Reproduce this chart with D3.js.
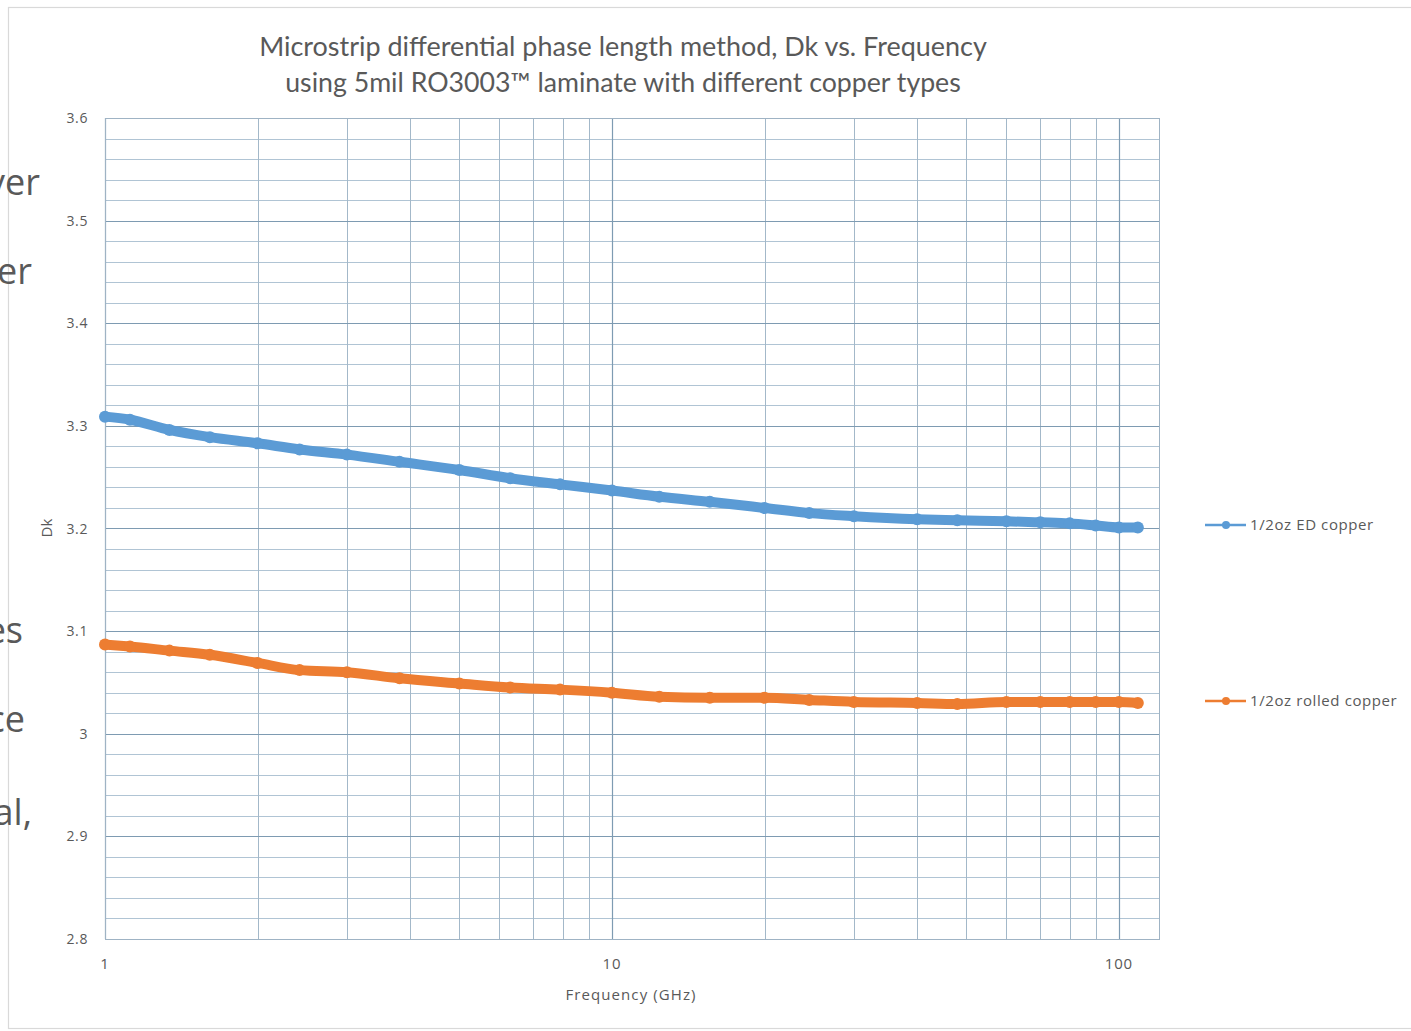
<!DOCTYPE html>
<html>
<head>
<meta charset="utf-8">
<script src="https://cdn.jsdelivr.net/npm/d3@7"></script>
<style>
  html, body { margin: 0; padding: 0; background: #ffffff; }
  svg { display: block; }
</style>
</head>
<body>
<svg id="chart" width="1411" height="1031"></svg>
<script>
// Measured Dk vs. frequency for two copper foil types on 5 mil RO3003
const freqGHz = [1, 1.12, 1.34, 1.61, 2, 2.42, 3, 3.81, 5, 6.3, 7.9, 10, 12.4, 15.6, 20, 24.5, 30, 40, 48, 60, 70, 80, 90, 100, 109];
const edCopper = [3.309, 3.306, 3.296, 3.289, 3.283, 3.277, 3.272, 3.265, 3.257, 3.249, 3.243, 3.237, 3.231, 3.226, 3.220, 3.215, 3.212, 3.209, 3.208, 3.207, 3.206, 3.205, 3.203, 3.201, 3.201];
const rolledCopper = [3.087, 3.085, 3.081, 3.077, 3.069, 3.062, 3.060, 3.054, 3.049, 3.045, 3.043, 3.040, 3.036, 3.035, 3.035, 3.033, 3.031, 3.030, 3.029, 3.031, 3.031, 3.031, 3.031, 3.031, 3.030];

const seriesNames = ["1/2oz ED copper", "1/2oz rolled copper"];
const seriesColors = ["#5b9bd5", "#ed7d31"];

const yTicks = [2.8, 2.9, 3.0, 3.1, 3.2, 3.3, 3.4, 3.5, 3.6];
const xTickLabels = [1, 10, 100];

const titleLines = [
  "Microstrip differential phase length method, Dk vs. Frequency",
  "using 5mil RO3003\u2122 laminate with different copper types"
];

// Fragments of surrounding page text clipped at the left edge
const sideText = [
  { t: "ver", x: 40, y: 195 },
  { t: "er",  x: 32, y: 284 },
  { t: "es",  x: 23, y: 643 },
  { t: "ce",  x: 25, y: 732 },
  { t: "al,", x: 32, y: 825 }
];

const svg = d3.select("#chart");
const textColor = "#595959";
const labelFont = "'Open Sans', sans-serif";

// chart frame
svg.append("rect")
  .attr("x", 8.5).attr("y", 7.5)
  .attr("width", 1420).attr("height", 1021)
  .attr("fill", "#ffffff")
  .attr("stroke", "#d9d9d9").attr("stroke-width", 1.2);

const plot = { left: 105, right: 1159, top: 118, bottom: 939 };

const x = d3.scaleLog().domain([1, 120]).range([plot.left, plot.right]);
const y = d3.scaleLinear().domain([2.8, 3.6]).range([plot.bottom, plot.top]);

const g = svg.append("g");

// minor horizontal grid every 0.02
const minorY = d3.range(0, 41).map(i => 2.8 + i * 0.02).filter(v => Math.abs(v * 10 - Math.round(v * 10)) > 1e-6);
g.selectAll("line.hminor").data(minorY).join("line")
  .attr("x1", plot.left).attr("x2", plot.right)
  .attr("y1", d => Math.round(y(d)) + 0.5).attr("y2", d => Math.round(y(d)) + 0.5)
  .attr("stroke", "#b0c4d4").attr("stroke-width", 1);

// minor vertical grid at 2..9 of each decade
const minorX = [];
[1, 10].forEach(dec => { for (let k = 2; k <= 9; k++) minorX.push(dec * k); });
g.selectAll("line.vminor").data(minorX).join("line")
  .attr("y1", plot.top).attr("y2", plot.bottom)
  .attr("x1", d => Math.round(x(d)) + 0.5).attr("x2", d => Math.round(x(d)) + 0.5)
  .attr("stroke", "#a3b8c9").attr("stroke-width", 1);

// major gridlines
g.selectAll("line.hmajor").data(yTicks).join("line")
  .attr("x1", plot.left).attr("x2", plot.right)
  .attr("y1", d => Math.round(y(d)) + 0.5).attr("y2", d => Math.round(y(d)) + 0.5)
  .attr("stroke", "#7e9bb2").attr("stroke-width", 1.2);
g.selectAll("line.vmajor").data(xTickLabels).join("line")
  .attr("y1", plot.top).attr("y2", plot.bottom)
  .attr("x1", d => Math.round(x(d)) + 0.5).attr("x2", d => Math.round(x(d)) + 0.5)
  .attr("stroke", "#7e9bb2").attr("stroke-width", 1.2);

// plot border
g.append("rect")
  .attr("x", plot.left + 0.5).attr("y", plot.top + 0.5)
  .attr("width", plot.right - plot.left).attr("height", plot.bottom - plot.top)
  .attr("fill", "none").attr("stroke", "#9fb3c4").attr("stroke-width", 1);

// y tick labels
svg.append("g").selectAll("text").data(yTicks).join("text")
  .attr("x", 88).attr("y", d => y(d) + 5)
  .attr("text-anchor", "end")
  .attr("font-family", labelFont).attr("font-size", 14)
  .attr("letter-spacing", 0.6)
  .attr("fill", textColor)
  .text(d => d3.format("~g")(d));

// x tick labels
svg.append("g").selectAll("text").data(xTickLabels).join("text")
  .attr("x", d => x(d)).attr("y", 969)
  .attr("text-anchor", "middle")
  .attr("font-family", labelFont).attr("font-size", 15)
  .attr("letter-spacing", 0.8)
  .attr("fill", textColor)
  .text(d => d);

// axis titles
svg.append("text")
  .attr("x", 631).attr("y", 1000)
  .attr("text-anchor", "middle")
  .attr("font-family", labelFont).attr("font-size", 15)
  .attr("letter-spacing", 1.1)
  .attr("fill", textColor)
  .text("Frequency (GHz)");
svg.append("text")
  .attr("transform", "translate(52,528) rotate(-90)")
  .attr("text-anchor", "middle")
  .attr("font-family", labelFont).attr("font-size", 15)
  .attr("fill", textColor)
  .text("Dk");

// title, scaled so each line spans its width
const titleWidths = [728, 676];
titleLines.forEach((line, i) => {
  const t = svg.append("text")
    .attr("x", 623).attr("y", 56 + i * 36)
    .attr("text-anchor", "middle")
    .attr("font-family", "Lato, 'Open Sans', sans-serif").attr("font-size", 26)
    .attr("fill", textColor)
    .text(line);
  const w = t.node().getComputedTextLength();
  t.attr("font-size", 26 * titleWidths[i] / w);
});

// data series: thick band of dense markers
const series = [edCopper, rolledCopper];
const lineGen = d3.line().x((d, i) => x(freqGHz[i])).y(d => y(d)).curve(d3.curveMonotoneX);
series.forEach((vals, si) => {
  const sg = svg.append("g");
  sg.append("path")
    .attr("d", lineGen(vals))
    .attr("fill", "none")
    .attr("stroke", seriesColors[si])
    .attr("stroke-width", 10)
    .attr("stroke-linecap", "round")
    .attr("stroke-linejoin", "round");
  sg.selectAll("circle").data(vals).join("circle")
    .attr("cx", (d, i) => x(freqGHz[i]))
    .attr("cy", d => y(d))
    .attr("r", 6)
    .attr("fill", seriesColors[si]);
});

// legend
const legendY = [525, 701];
seriesNames.forEach((name, i) => {
  const lg = svg.append("g");
  lg.append("line")
    .attr("x1", 1205).attr("x2", 1246)
    .attr("y1", legendY[i]).attr("y2", legendY[i])
    .attr("stroke", seriesColors[i]).attr("stroke-width", 2.5);
  lg.append("circle")
    .attr("cx", 1226).attr("cy", legendY[i]).attr("r", 4)
    .attr("fill", seriesColors[i]);
  lg.append("text")
    .attr("x", 1250).attr("y", legendY[i] + 5)
    .attr("font-family", labelFont).attr("font-size", 15)
    .attr("letter-spacing", 0.6)
    .attr("fill", textColor)
    .text(name);
});

// clipped page text on the left
svg.append("g").selectAll("text").data(sideText).join("text")
  .attr("x", d => d.x).attr("y", d => d.y)
  .attr("text-anchor", "end")
  .attr("font-family", labelFont).attr("font-size", 36)
  .attr("fill", textColor)
  .text(d => d.t);
</script>
</body>
</html>
